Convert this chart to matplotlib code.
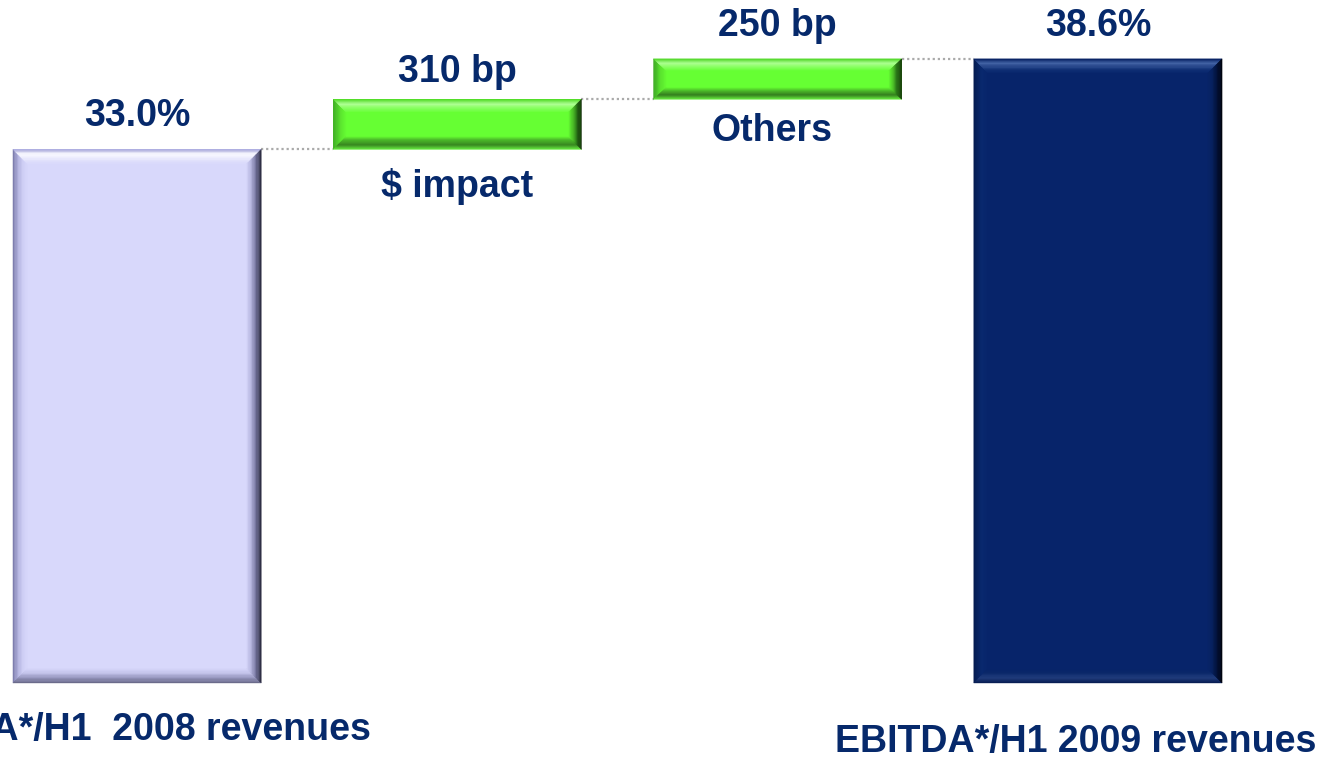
import numpy as np
import matplotlib
matplotlib.use("Agg")
import matplotlib.pyplot as plt
from matplotlib.patches import Polygon
from matplotlib.colors import to_rgb

# EBITDA margin bridge, H1 2008 -> H1 2009
categories = ["EBITDA*/H1  2008 revenues", "$ impact", "Others", "EBITDA*/H1 2009 revenues"]
margin_2008 = 33.0            # %
bridge_bp = [310, 250]        # basis points
margin_2009 = 38.6            # %
value_labels = ["33.0%", "310 bp", "250 bp", "38.6%"]

TEXT = "#06296B"
DPI = 100
W, H = 1334, 758

# waterfall geometry derived from the data
steps = [b / 100.0 for b in bridge_bp]
bottoms = [0.0]
heights = [margin_2008]
level = margin_2008
for s in steps:
    bottoms.append(level)
    heights.append(s)
    level += s
bottoms.append(0.0)
heights.append(margin_2009)
x = np.arange(len(categories))

plt.rcParams["font.family"] = ["Liberation Sans", "DejaVu Sans"]
fig = plt.figure(figsize=(W / DPI, H / DPI), dpi=DPI)
ax = fig.add_axes([0, 0, 1, 1])
ax.set_xlim(-0.428, 3.737)
ax.set_ylim(-4.64, 42.24)
ax.axis("off")

px_x = W / (ax.get_xlim()[1] - ax.get_xlim()[0])
px_y = H / (ax.get_ylim()[1] - ax.get_ylim()[0])

bar_w = 0.775
styles = {
    "start": dict(fill="#D8D8FB",
                  top=["#A4A4DA", "#FAFAFF", "#F2F2FF", "#E0E0FC"],
                  left=["#7E7EAE", "#B4B4E0", "#D0D0F6"],
                  right=["#2E2E44", "#6E6E96", "#B4B4DE"],
                  bottom=["#6A6A8A", "#9494BC", "#C4C4EC"]),
    "step": dict(fill="#66FF33",
                 top=["#52D828", "#B0FF96", "#8CFF66"],
                 left=["#3EA826", "#5AE02E"],
                 right=["#112E08", "#276C16", "#4CC028"],
                 bottom=["#66E840", "#347E1E", "#48AE28"]),
    "end": dict(fill="#07246A",
                top=["#0A2466", "#4464A6", "#2A4A8E", "#0E2E74"],
                left=["#051C52", "#0A2A70"],
                right=["#000410", "#03123A", "#072260"],
                bottom=["#0A1F55", "#223E7E", "#0B2869"]),
}
kinds = ["start", "step", "step", "end"]


def ramp(stops, n):
    stops = [np.array(to_rgb(c)) for c in stops]
    out = []
    for i in range(n):
        t = i / max(n - 1, 1) * (len(stops) - 1)
        k = min(int(t), len(stops) - 2)
        f = t - k
        out.append(stops[k] * (1 - f) + stops[k + 1] * f)
    return out


def bevel(x0, x1, y0, y1, st, bpx):
    dx = bpx / px_x
    dy = min(bpx, (y1 - y0) * px_y * 0.32) / px_y
    n = 12
    sides = {
        "top": lambda a, b: [(x0 + a * dx, y1 - a * dy), (x1 - a * dx, y1 - a * dy),
                             (x1 - b * dx, y1 - b * dy), (x0 + b * dx, y1 - b * dy)],
        "bottom": lambda a, b: [(x0 + a * dx, y0 + a * dy), (x1 - a * dx, y0 + a * dy),
                                (x1 - b * dx, y0 + b * dy), (x0 + b * dx, y0 + b * dy)],
        "left": lambda a, b: [(x0 + a * dx, y0 + a * dy), (x0 + a * dx, y1 - a * dy),
                              (x0 + b * dx, y1 - b * dy), (x0 + b * dx, y0 + b * dy)],
        "right": lambda a, b: [(x1 - a * dx, y0 + a * dy), (x1 - a * dx, y1 - a * dy),
                               (x1 - b * dx, y1 - b * dy), (x1 - b * dx, y0 + b * dy)],
    }
    for side in ["left", "bottom", "top", "right"]:
        cols = ramp(st[side] + [st["fill"]], n)
        for i in range(n):
            poly = Polygon(sides[side](i / n, (i + 1) / n), closed=True,
                           facecolor=cols[i], edgecolor=cols[i], lw=0.3, zorder=3)
            ax.add_patch(poly)


bars = ax.bar(x, heights, bottom=bottoms, width=bar_w,
              color=[styles[k]["fill"] for k in kinds], zorder=2, linewidth=0)

for xi, b, h, k in zip(x, bottoms, heights, kinds):
    bevel(xi - bar_w / 2, xi + bar_w / 2, b, b + h, styles[k], 16 if k != "step" else 14)

# dotted connectors between consecutive levels
for i in range(len(x) - 1):
    lvl = bottoms[i] + heights[i]
    ax.plot([x[i] + bar_w / 2, x[i + 1] - bar_w / 2], [lvl, lvl],
            linestyle=(0, (1, 1.3)), color="#AAAAAA", lw=1.6, zorder=1)

# value labels above the bars
val_off = [33, 27, 33, 33]
for xi, b, h, lab, off in zip(x, bottoms, heights, value_labels, val_off):
    ax.annotate(lab, (xi, b + h), xytext=(0, off), textcoords="offset pixels",
                ha="center", va="center", fontsize=27, fontweight="bold", color=TEXT)

# category labels: under the bridge steps, or under the axis for the totals
cat_off = {0: (-12, -47), 1: (0, -37), 2: (-6, -32), 3: (-22, -59)}
for i, (xi, b, h, cat) in enumerate(zip(x, bottoms, heights, categories)):
    ref_y = b if kinds[i] == "step" else 0.0
    dx_, dy_ = cat_off[i]
    ax.annotate(cat, (xi, ref_y), xytext=(dx_, dy_), textcoords="offset pixels",
                ha="center", va="center", fontsize=27, fontweight="bold", color=TEXT,
                annotation_clip=False)

fig.savefig("out.png", dpi=DPI)
